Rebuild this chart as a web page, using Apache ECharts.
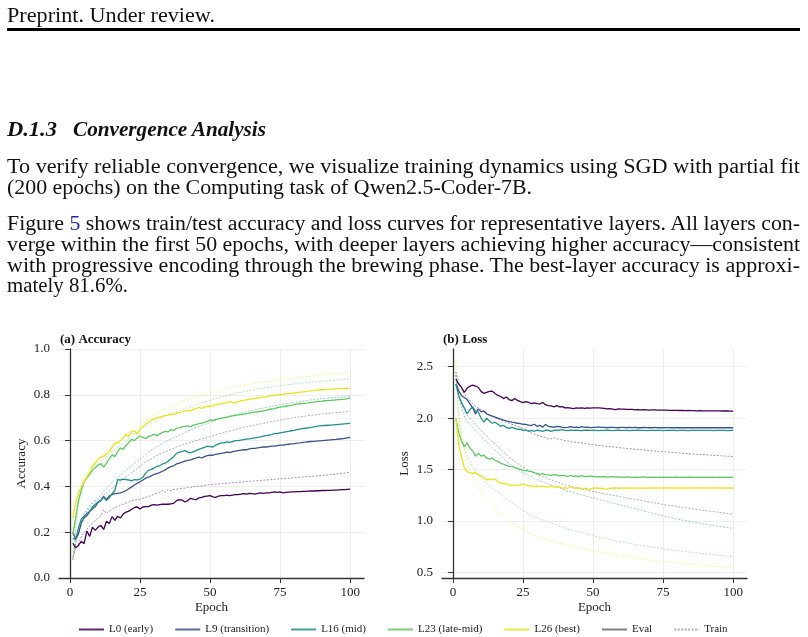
<!DOCTYPE html>
<html><head><meta charset="utf-8">
<script src="https://cdn.jsdelivr.net/npm/echarts@6/dist/echarts.min.js"></script>
<style>
html,body{margin:0;padding:0;background:#fff;}
#page{position:relative;width:808px;height:637px;overflow:hidden;background:#fff;}
#chart{position:absolute;left:0;top:0;width:808px;height:637px;}
.ln{position:absolute;white-space:nowrap;font-family:"Liberation Serif",serif;font-size:20px;line-height:20px;color:#111;transform-origin:0 0;}
.hd{font-weight:bold;font-style:italic;}
</style></head>
<body><div id="page"><div id="chart"></div>
<div class="ln" data-w="208" style="left:7px;top:5px">Preprint. Under review.</div>
<div style="position:absolute;left:7px;top:28px;width:793px;height:3px;background:#000"></div>
<div class="ln hd" data-w="50" style="left:7px;top:119px">D.1.3</div>
<div class="ln hd" data-w="193" style="left:73px;top:119px">Convergence Analysis</div>
<div class="ln" data-w="793" style="left:7px;top:156px">To verify reliable convergence, we visualize training dynamics using SGD with partial fit</div>
<div class="ln" data-w="525" style="left:7px;top:177px">(200 epochs) on the Computing task of Qwen2.5-Coder-7B.</div>
<div class="ln" data-w="793" style="left:7px;top:213px">Figure <span style="color:#2222aa">5</span> shows train/test accuracy and loss curves for representative layers. All layers con-</div>
<div class="ln" data-w="793" style="left:7px;top:234px">verge within the first 50 epochs, with deeper layers achieving higher accuracy—consistent</div>
<div class="ln" data-w="793" style="left:7px;top:255px">with progressive encoding through the brewing phase. The best-layer accuracy is approxi-</div>
<div class="ln" data-w="121" style="left:7px;top:275px">mately 81.6%.</div>
</div>
<script>
document.querySelectorAll('.ln').forEach(function(el){
  var w = el.getBoundingClientRect().width;
  var t = +el.dataset.w;
  el.style.transform = 'scaleX(' + (t / w) + ')';
});

// ---------------- DATA ----------------
const epochs = Array.from({length:100}, (_, i) => i + 1);
const xTicks = [0, 25, 50, 75, 100];
const lossTicks = [0.5, 1.0, 1.5, 2.0, 2.5];
const layerNames = ['L0 (early)', 'L9 (transition)', 'L16 (mid)', 'L23 (late-mid)', 'L26 (best)'];
const layerColors = ['#440154', '#3b528b', '#21918c', '#5ec962', '#ece21c'];

const accEvalL0 = [0.152,0.132,0.142,0.160,0.150,0.205,0.182,0.222,0.208,0.222,
0.230,0.212,0.248,0.238,0.268,0.252,0.270,0.262,0.280,0.288,
0.292,0.300,0.308,0.310,0.302,0.310,0.312,0.312,0.318,0.320,
0.318,0.320,0.322,0.322,0.322,0.324,0.326,0.338,0.342,0.340,
0.332,0.338,0.348,0.344,0.342,0.350,0.352,0.356,0.358,0.360,
0.354,0.352,0.358,0.360,0.360,0.362,0.360,0.362,0.364,0.364,
0.366,0.368,0.366,0.370,0.368,0.366,0.370,0.372,0.370,0.372,
0.372,0.374,0.376,0.374,0.376,0.372,0.374,0.375,0.376,0.376,
0.377,0.377,0.378,0.378,0.379,0.380,0.380,0.381,0.381,0.382,
0.382,0.383,0.383,0.384,0.384,0.385,0.386,0.386,0.387,0.388];
const accTrainL0 = [0.090,0.130,0.152,0.180,0.198,0.212,0.228,0.240,0.250,0.262,
0.272,0.298,0.282,0.292,0.300,0.308,0.312,0.318,0.322,0.328,
0.332,0.338,0.340,0.342,0.344,0.348,0.352,0.356,0.360,0.366,
0.370,0.372,0.382,0.374,0.386,0.380,0.386,0.388,0.390,0.392,
0.392,0.395,0.396,0.398,0.400,0.401,0.402,0.404,0.406,0.408,
0.409,0.410,0.411,0.412,0.413,0.414,0.415,0.416,0.417,0.418,
0.419,0.420,0.421,0.422,0.423,0.424,0.425,0.426,0.427,0.428,
0.429,0.430,0.431,0.432,0.433,0.434,0.435,0.436,0.437,0.438,
0.439,0.440,0.441,0.442,0.443,0.444,0.445,0.446,0.447,0.448,
0.449,0.450,0.451,0.452,0.454,0.455,0.457,0.458,0.460,0.462];
const accEvalL9 = [0.200,0.170,0.192,0.240,0.262,0.272,0.290,0.302,0.312,0.330,
0.338,0.356,0.342,0.358,0.364,0.368,0.370,0.372,0.376,0.382,
0.390,0.398,0.406,0.414,0.420,0.428,0.436,0.440,0.446,0.452,
0.456,0.460,0.466,0.472,0.480,0.486,0.490,0.498,0.502,0.506,
0.510,0.514,0.516,0.520,0.524,0.528,0.524,0.530,0.534,0.536,
0.536,0.540,0.542,0.544,0.546,0.550,0.548,0.552,0.554,0.556,
0.558,0.560,0.560,0.564,0.566,0.566,0.568,0.570,0.572,0.572,
0.574,0.576,0.576,0.578,0.580,0.580,0.582,0.584,0.586,0.587,
0.589,0.590,0.592,0.593,0.595,0.596,0.597,0.598,0.599,0.600,
0.601,0.602,0.603,0.604,0.605,0.607,0.608,0.610,0.612,0.614];
const accTrainL9 = [0.080,0.150,0.200,0.238,0.268,0.290,0.308,0.322,0.336,0.342,
0.352,0.362,0.372,0.382,0.392,0.402,0.412,0.420,0.430,0.440,
0.450,0.460,0.468,0.478,0.488,0.498,0.506,0.514,0.520,0.528,
0.534,0.540,0.546,0.552,0.556,0.562,0.566,0.572,0.576,0.580,
0.585,0.589,0.592,0.596,0.600,0.604,0.607,0.611,0.615,0.619,
0.622,0.626,0.629,0.632,0.635,0.639,0.642,0.645,0.648,0.652,
0.655,0.658,0.660,0.663,0.666,0.668,0.671,0.673,0.676,0.678,
0.681,0.683,0.685,0.688,0.690,0.692,0.694,0.696,0.698,0.700,
0.702,0.704,0.705,0.707,0.709,0.710,0.712,0.713,0.715,0.716,
0.717,0.719,0.720,0.721,0.722,0.723,0.724,0.726,0.727,0.728];
const accEvalL16 = [0.172,0.168,0.218,0.258,0.270,0.282,0.292,0.310,0.322,0.332,
0.340,0.352,0.338,0.350,0.368,0.382,0.430,0.428,0.432,0.430,
0.428,0.424,0.430,0.428,0.432,0.440,0.458,0.470,0.474,0.480,
0.488,0.490,0.498,0.502,0.510,0.520,0.530,0.544,0.550,0.552,
0.556,0.550,0.546,0.552,0.556,0.562,0.566,0.570,0.576,0.574,
0.572,0.580,0.586,0.590,0.590,0.594,0.592,0.596,0.600,0.600,
0.602,0.604,0.606,0.608,0.610,0.612,0.614,0.616,0.620,0.622,
0.624,0.626,0.630,0.632,0.634,0.636,0.638,0.640,0.643,0.645,
0.648,0.650,0.652,0.654,0.656,0.658,0.660,0.662,0.664,0.665,
0.666,0.667,0.668,0.669,0.670,0.671,0.672,0.673,0.674,0.675];
const accTrainL16 = [0.080,0.160,0.210,0.250,0.280,0.300,0.318,0.330,0.340,0.352,
0.362,0.380,0.392,0.404,0.418,0.430,0.440,0.450,0.460,0.470,
0.480,0.490,0.500,0.510,0.520,0.530,0.540,0.550,0.558,0.566,
0.574,0.580,0.588,0.594,0.600,0.606,0.612,0.618,0.624,0.630,
0.636,0.641,0.646,0.651,0.656,0.661,0.666,0.670,0.675,0.680,
0.684,0.688,0.692,0.696,0.699,0.703,0.706,0.710,0.713,0.716,
0.720,0.723,0.726,0.729,0.731,0.734,0.737,0.740,0.742,0.745,
0.747,0.750,0.752,0.754,0.757,0.759,0.761,0.763,0.765,0.767,
0.769,0.771,0.773,0.774,0.776,0.778,0.779,0.781,0.782,0.784,
0.785,0.786,0.787,0.788,0.789,0.790,0.791,0.792,0.794,0.795];
const accEvalL23 = [0.190,0.262,0.340,0.382,0.420,0.438,0.452,0.470,0.482,0.492,
0.500,0.484,0.502,0.520,0.538,0.530,0.552,0.568,0.562,0.580,
0.592,0.606,0.600,0.612,0.620,0.614,0.608,0.618,0.622,0.628,
0.620,0.630,0.636,0.640,0.638,0.648,0.644,0.654,0.656,0.660,
0.662,0.664,0.660,0.668,0.670,0.674,0.676,0.680,0.684,0.690,
0.688,0.692,0.696,0.698,0.700,0.702,0.706,0.708,0.710,0.712,
0.714,0.716,0.718,0.720,0.722,0.724,0.726,0.728,0.730,0.732,
0.736,0.738,0.740,0.744,0.746,0.748,0.750,0.752,0.754,0.757,
0.759,0.761,0.762,0.764,0.765,0.767,0.768,0.770,0.771,0.772,
0.774,0.775,0.776,0.777,0.778,0.779,0.780,0.781,0.783,0.785];
const accTrainL23 = [0.080,0.220,0.320,0.380,0.420,0.442,0.462,0.478,0.490,0.500,
0.510,0.520,0.530,0.540,0.550,0.560,0.570,0.580,0.590,0.600,
0.610,0.620,0.630,0.638,0.646,0.654,0.662,0.670,0.678,0.685,
0.690,0.696,0.701,0.706,0.711,0.716,0.721,0.726,0.731,0.736,
0.740,0.744,0.748,0.752,0.756,0.760,0.764,0.768,0.772,0.776,
0.780,0.783,0.787,0.790,0.794,0.797,0.800,0.803,0.806,0.809,
0.811,0.814,0.816,0.819,0.821,0.823,0.825,0.827,0.829,0.831,
0.833,0.835,0.837,0.838,0.840,0.842,0.843,0.845,0.846,0.848,
0.849,0.850,0.851,0.852,0.854,0.855,0.856,0.857,0.858,0.859,
0.860,0.861,0.862,0.863,0.864,0.865,0.866,0.867,0.868,0.870];
const accEvalL26 = [0.260,0.330,0.372,0.398,0.420,0.442,0.460,0.488,0.502,0.518,
0.528,0.532,0.540,0.552,0.570,0.590,0.588,0.600,0.612,0.628,
0.618,0.640,0.642,0.628,0.650,0.662,0.672,0.680,0.690,0.694,
0.700,0.702,0.706,0.710,0.712,0.716,0.714,0.720,0.722,0.726,
0.730,0.732,0.730,0.736,0.740,0.746,0.740,0.746,0.750,0.750,
0.752,0.756,0.760,0.760,0.764,0.766,0.770,0.768,0.764,0.770,
0.774,0.776,0.778,0.780,0.782,0.784,0.786,0.788,0.790,0.790,
0.794,0.796,0.798,0.800,0.800,0.802,0.804,0.805,0.806,0.808,
0.810,0.811,0.813,0.814,0.816,0.817,0.819,0.820,0.821,0.822,
0.823,0.824,0.825,0.826,0.826,0.827,0.827,0.828,0.828,0.828];
const accTrainL26 = [0.080,0.250,0.340,0.400,0.432,0.458,0.480,0.498,0.510,0.520,
0.530,0.540,0.550,0.560,0.572,0.584,0.594,0.604,0.614,0.628,
0.638,0.648,0.658,0.664,0.672,0.682,0.690,0.698,0.706,0.714,
0.720,0.727,0.733,0.739,0.745,0.750,0.755,0.760,0.765,0.770,
0.775,0.779,0.783,0.787,0.791,0.795,0.799,0.802,0.806,0.809,
0.812,0.815,0.818,0.821,0.824,0.827,0.829,0.832,0.834,0.837,
0.839,0.841,0.843,0.846,0.848,0.850,0.852,0.854,0.855,0.857,
0.859,0.861,0.862,0.864,0.865,0.867,0.868,0.870,0.871,0.873,
0.874,0.876,0.877,0.878,0.880,0.881,0.882,0.884,0.885,0.886,
0.887,0.889,0.890,0.891,0.892,0.894,0.895,0.896,0.898,0.900];

const lossEvalL0 = [2.380,2.330,2.300,2.250,2.290,2.310,2.320,2.310,2.300,2.260,
2.240,2.250,2.260,2.262,2.240,2.220,2.210,2.190,2.205,2.180,
2.170,2.190,2.172,2.160,2.150,2.160,2.152,2.140,2.148,2.140,
2.138,2.152,2.130,2.122,2.118,2.110,2.122,2.110,2.112,2.100,
2.102,2.098,2.092,2.100,2.098,2.100,2.094,2.100,2.098,2.100,
2.100,2.100,2.098,2.095,2.090,2.092,2.088,2.082,2.090,2.088,
2.088,2.085,2.085,2.084,2.080,2.082,2.080,2.082,2.080,2.078,
2.080,2.080,2.078,2.078,2.077,2.078,2.076,2.076,2.075,2.075,
2.074,2.074,2.073,2.074,2.072,2.072,2.071,2.072,2.071,2.070,
2.070,2.071,2.070,2.070,2.070,2.069,2.070,2.069,2.068,2.068];
const lossTrainL0 = [2.450,2.350,2.280,2.240,2.200,2.170,2.140,2.120,2.100,2.080,
2.062,2.048,2.032,2.018,2.004,1.992,1.980,1.970,1.960,1.950,
1.940,1.930,1.920,1.910,1.900,1.890,1.876,1.856,1.844,1.834,
1.826,1.818,1.810,1.800,1.798,1.808,1.800,1.792,1.788,1.782,
1.778,1.772,1.768,1.764,1.760,1.757,1.752,1.748,1.744,1.741,
1.738,1.735,1.732,1.729,1.726,1.723,1.720,1.717,1.714,1.711,
1.708,1.705,1.702,1.700,1.697,1.694,1.692,1.689,1.687,1.684,
1.682,1.680,1.677,1.675,1.673,1.671,1.668,1.666,1.664,1.662,
1.660,1.658,1.656,1.654,1.652,1.650,1.648,1.647,1.645,1.643,
1.641,1.640,1.638,1.636,1.635,1.633,1.631,1.630,1.628,1.627];
const lossEvalL9 = [2.330,2.270,2.220,2.200,2.180,2.140,2.100,2.040,2.090,2.060,
2.070,2.040,2.030,2.020,2.010,2.000,1.990,1.980,1.972,1.966,
1.960,1.956,1.950,1.946,1.940,1.938,1.932,1.928,1.940,1.920,
1.930,1.912,1.938,1.920,1.916,1.910,1.920,1.918,1.910,1.908,
1.910,1.918,1.910,1.912,1.908,1.916,1.910,1.912,1.908,1.910,
1.910,1.914,1.910,1.910,1.906,1.910,1.910,1.908,1.906,1.910,
1.910,1.906,1.910,1.908,1.910,1.906,1.906,1.910,1.908,1.906,
1.906,1.910,1.906,1.906,1.906,1.907,1.908,1.906,1.906,1.906,
1.906,1.906,1.907,1.906,1.906,1.906,1.906,1.907,1.906,1.906,
1.906,1.906,1.906,1.907,1.906,1.906,1.906,1.906,1.907,1.906];
const lossTrainL9 = [2.420,2.250,2.150,2.080,2.030,2.000,1.970,1.940,1.910,1.880,
1.850,1.830,1.800,1.770,1.750,1.720,1.700,1.670,1.650,1.620,
1.600,1.580,1.560,1.540,1.520,1.510,1.490,1.480,1.460,1.450,
1.440,1.430,1.420,1.410,1.400,1.390,1.380,1.370,1.360,1.350,
1.345,1.340,1.330,1.325,1.320,1.310,1.305,1.300,1.290,1.285,
1.280,1.275,1.270,1.265,1.260,1.255,1.250,1.245,1.240,1.235,
1.230,1.225,1.220,1.215,1.210,1.205,1.200,1.195,1.190,1.185,
1.180,1.175,1.170,1.165,1.160,1.155,1.150,1.148,1.145,1.140,
1.135,1.130,1.128,1.125,1.120,1.115,1.110,1.108,1.105,1.100,
1.097,1.094,1.090,1.087,1.084,1.080,1.076,1.072,1.068,1.064];
const lossEvalL16 = [2.330,2.220,2.150,2.100,2.040,2.080,2.110,2.070,2.060,2.000,
1.960,2.000,1.970,1.950,1.960,1.940,1.920,1.930,1.910,1.900,
1.910,1.900,1.890,1.892,1.880,1.884,1.870,1.880,1.872,1.882,
1.878,1.870,1.882,1.880,1.872,1.880,1.882,1.884,1.888,1.880,
1.878,1.882,1.880,1.884,1.880,1.878,1.882,1.884,1.880,1.882,
1.880,1.878,1.880,1.880,1.882,1.880,1.878,1.880,1.882,1.880,
1.880,1.880,1.878,1.880,1.880,1.882,1.880,1.880,1.878,1.880,
1.880,1.880,1.880,1.880,1.879,1.880,1.880,1.880,1.880,1.879,
1.880,1.880,1.880,1.879,1.880,1.880,1.880,1.880,1.880,1.880,
1.880,1.880,1.879,1.880,1.880,1.880,1.880,1.879,1.880,1.880];
const lossTrainL16 = [2.420,2.220,2.100,2.020,1.970,1.940,1.910,1.880,1.850,1.820,
1.790,1.770,1.740,1.710,1.690,1.660,1.640,1.610,1.580,1.560,
1.540,1.520,1.500,1.490,1.470,1.460,1.440,1.430,1.410,1.400,
1.390,1.380,1.370,1.360,1.350,1.340,1.330,1.320,1.310,1.300,
1.290,1.283,1.276,1.268,1.260,1.253,1.246,1.239,1.232,1.225,
1.218,1.210,1.203,1.196,1.189,1.182,1.175,1.168,1.161,1.154,
1.147,1.140,1.133,1.126,1.119,1.112,1.105,1.098,1.091,1.084,
1.077,1.070,1.063,1.056,1.049,1.043,1.037,1.031,1.025,1.019,
1.013,1.008,1.003,0.998,0.993,0.988,0.983,0.978,0.973,0.968,
0.963,0.959,0.955,0.951,0.947,0.943,0.939,0.935,0.932,0.929];
const lossEvalL23 = [2.000,1.860,1.780,1.720,1.760,1.710,1.680,1.630,1.660,1.630,
1.640,1.610,1.600,1.612,1.590,1.580,1.560,1.552,1.540,1.530,
1.528,1.520,1.510,1.502,1.492,1.490,1.484,1.480,1.470,1.462,
1.452,1.460,1.450,1.448,1.442,1.450,1.446,1.438,1.442,1.440,
1.432,1.442,1.432,1.438,1.430,1.440,1.432,1.430,1.438,1.432,
1.428,1.430,1.428,1.432,1.426,1.428,1.430,1.426,1.428,1.426,
1.424,1.428,1.426,1.424,1.426,1.424,1.426,1.428,1.424,1.426,
1.424,1.426,1.424,1.426,1.425,1.424,1.426,1.424,1.425,1.426,
1.424,1.425,1.424,1.425,1.426,1.424,1.425,1.424,1.425,1.424,
1.425,1.424,1.425,1.424,1.425,1.424,1.425,1.424,1.425,1.425];
const lossTrainL23 = [2.450,2.020,1.820,1.720,1.640,1.580,1.530,1.490,1.450,1.420,
1.390,1.370,1.340,1.320,1.300,1.280,1.260,1.240,1.220,1.200,
1.180,1.160,1.140,1.120,1.100,1.090,1.070,1.060,1.040,1.030,
1.020,1.010,1.000,0.990,0.980,0.970,0.960,0.950,0.940,0.930,
0.920,0.914,0.906,0.900,0.892,0.885,0.878,0.870,0.862,0.855,
0.849,0.843,0.837,0.831,0.825,0.819,0.813,0.808,0.802,0.797,
0.792,0.787,0.782,0.777,0.772,0.767,0.762,0.758,0.754,0.750,
0.746,0.742,0.738,0.734,0.730,0.726,0.722,0.719,0.715,0.712,
0.709,0.705,0.702,0.699,0.696,0.693,0.690,0.687,0.684,0.681,
0.678,0.675,0.672,0.669,0.666,0.663,0.660,0.658,0.655,0.652];
const lossEvalL26 = [2.000,1.750,1.620,1.520,1.480,1.470,1.460,1.470,1.450,1.440,
1.420,1.400,1.410,1.400,1.410,1.380,1.370,1.360,1.362,1.350,
1.340,1.352,1.340,1.350,1.360,1.350,1.340,1.342,1.330,1.340,
1.330,1.340,1.330,1.332,1.340,1.330,1.328,1.332,1.320,1.322,
1.320,1.330,1.320,1.322,1.318,1.310,1.318,1.312,1.310,1.320,
1.322,1.318,1.320,1.312,1.310,1.318,1.320,1.322,1.318,1.320,
1.320,1.322,1.318,1.320,1.322,1.320,1.318,1.320,1.322,1.320,
1.320,1.320,1.320,1.322,1.320,1.320,1.320,1.320,1.320,1.320,
1.320,1.320,1.320,1.320,1.321,1.320,1.320,1.320,1.320,1.320,
1.320,1.321,1.320,1.320,1.320,1.320,1.321,1.320,1.320,1.320];
const lossTrainL26 = [2.580,2.100,1.850,1.680,1.570,1.490,1.430,1.380,1.330,1.290,
1.250,1.220,1.190,1.160,1.130,1.100,1.070,1.050,1.020,1.000,
0.980,0.960,0.940,0.930,0.910,0.900,0.880,0.870,0.860,0.850,
0.840,0.830,0.820,0.818,0.810,0.800,0.790,0.785,0.780,0.770,
0.765,0.760,0.750,0.745,0.740,0.735,0.730,0.725,0.720,0.715,
0.710,0.705,0.700,0.695,0.690,0.685,0.680,0.675,0.670,0.665,
0.660,0.655,0.650,0.645,0.640,0.635,0.630,0.628,0.625,0.620,
0.618,0.615,0.610,0.608,0.605,0.602,0.600,0.598,0.595,0.593,
0.590,0.588,0.585,0.583,0.580,0.578,0.575,0.573,0.570,0.568,
0.565,0.563,0.560,0.558,0.556,0.554,0.552,0.550,0.548,0.545];

const accEval = [accEvalL0, accEvalL9, accEvalL16, accEvalL23, accEvalL26];
const accTrain = [accTrainL0, accTrainL9, accTrainL16, accTrainL23, accTrainL26];
const lossEval = [lossEvalL0, lossEvalL9, lossEvalL16, lossEvalL23, lossEvalL26];
const lossTrain = [lossTrainL0, lossTrainL9, lossTrainL16, lossTrainL23, lossTrainL26];

// ---------------- CHART ----------------
const FONT = '"Liberation Serif", "Times New Roman", serif';
const pairs = arr => arr.map((v, i) => [epochs[i], v]);

function xAxisCfg(grid) {
  return {
    gridIndex: grid, type: 'value', min: -3.95, max: 104.95,
    axisLine: {show: true, onZero: false, lineStyle: {color: '#333', width: 1.3}},
    axisTick: {show: true, length: 5, customValues: xTicks, lineStyle: {color: '#333', width: 1}},
    axisLabel: {customValues: xTicks, fontFamily: FONT, fontSize: 13, color: '#222', margin: 8},
    splitLine: {show: true, lineStyle: {color: '#eeeeee', width: 1}},
    name: 'Epoch', nameLocation: 'middle', nameGap: 23,
    nameTextStyle: {fontFamily: FONT, fontSize: 13, color: '#222'}
  };
}

const series = [];
for (let k = 0; k < 5; k++) {
  const c = layerColors[k];
  series.push({name: layerNames[k] + ' eval acc', type: 'line', xAxisIndex: 0, yAxisIndex: 0,
    data: pairs(accEval[k]), showSymbol: false, symbol: 'none', lineStyle: {color: c, width: 1.3}, z: 3});
  series.push({name: layerNames[k] + ' train acc', type: 'line', xAxisIndex: 0, yAxisIndex: 0,
    data: pairs(accTrain[k]), showSymbol: false, symbol: 'none', lineStyle: {color: c, width: 1, type: [2, 1.5], opacity: 0.45}, z: 2});
  series.push({name: layerNames[k] + ' eval loss', type: 'line', xAxisIndex: 1, yAxisIndex: 1,
    data: pairs(lossEval[k]), showSymbol: false, symbol: 'none', lineStyle: {color: c, width: 1.3}, z: 3});
  series.push({name: layerNames[k] + ' train loss', type: 'line', xAxisIndex: 1, yAxisIndex: 1,
    data: pairs(lossTrain[k]), showSymbol: false, symbol: 'none', lineStyle: {color: c, width: 1, type: [2, 1.5], opacity: 0.45}, z: 2});
}
// legend-only entries
const legendNames = layerNames.concat(['Eval', 'Train']);
layerNames.forEach((n, k) => series.push({name: n, type: 'line', xAxisIndex: 0, yAxisIndex: 0, data: [],
  symbol: 'none', itemStyle: {color: layerColors[k], opacity: 0}, lineStyle: {color: layerColors[k], width: 1.5, opacity: 0.85}}));
series.push({name: 'Eval', type: 'line', xAxisIndex: 0, yAxisIndex: 0, data: [], symbol: 'none',
  itemStyle: {color: '#808080', opacity: 0}, lineStyle: {color: '#808080', width: 1.5}});
series.push({name: 'Train', type: 'line', xAxisIndex: 0, yAxisIndex: 0, data: [], symbol: 'none',
  itemStyle: {color: '#b0b0b0', opacity: 0}, lineStyle: {color: '#b0b0b0', width: 1, type: [2, 1.5]}});

const chart = echarts.init(document.getElementById('chart'), null, {renderer: 'canvas'});
chart.setOption({
  animation: false,
  backgroundColor: 'transparent',
  title: [
    {text: '(a) Accuracy', left: 60, top: 333, padding: 0,
     textStyle: {fontFamily: FONT, fontWeight: 'bold', fontSize: 13, color: '#111'}},
    {text: '(b) Loss', left: 443, top: 333, padding: 0,
     textStyle: {fontFamily: FONT, fontWeight: 'bold', fontSize: 13, color: '#111'}}
  ],
  grid: [
    {left: 59, top: 349, width: 305, height: 229},
    {left: 442, top: 349, width: 305, height: 229}
  ],
  xAxis: [xAxisCfg(0), xAxisCfg(1)],
  yAxis: [
    {gridIndex: 0, type: 'value', min: 0, max: 1, interval: 0.2,
     axisLine: {show: true, lineStyle: {color: '#333', width: 1.3}},
     axisTick: {show: true, length: 5, lineStyle: {color: '#333', width: 1}},
     axisLabel: {fontFamily: FONT, fontSize: 13, color: '#222', margin: 9, formatter: v => v.toFixed(1)},
     splitLine: {show: true, lineStyle: {color: '#eeeeee', width: 1}},
     name: 'Accuracy', nameLocation: 'middle', nameGap: 31,
     nameTextStyle: {fontFamily: FONT, fontSize: 13, color: '#222'}},
    {gridIndex: 1, type: 'value', min: 0.445, max: 2.672,
     axisLine: {show: true, lineStyle: {color: '#333', width: 1.3}},
     axisTick: {show: true, length: 5, customValues: lossTicks, lineStyle: {color: '#333', width: 1}},
     axisLabel: {customValues: lossTicks, fontFamily: FONT, fontSize: 13, color: '#222', margin: 9, formatter: v => v.toFixed(1)},
     splitLine: {show: true, lineStyle: {color: '#eeeeee', width: 1}},
     name: 'Loss', nameLocation: 'middle', nameGap: 31,
     nameTextStyle: {fontFamily: FONT, fontSize: 13, color: '#222'}}
  ],
  legend: {
    data: legendNames, left: 73, top: 619, itemWidth: 25, itemHeight: 10, itemGap: 21,
    selectedMode: false,
    itemStyle: {opacity: 0, borderWidth: 0},
    textStyle: {fontFamily: FONT, fontSize: 11, color: '#222'}
  },
  series: series
});
</script>
</body></html>
